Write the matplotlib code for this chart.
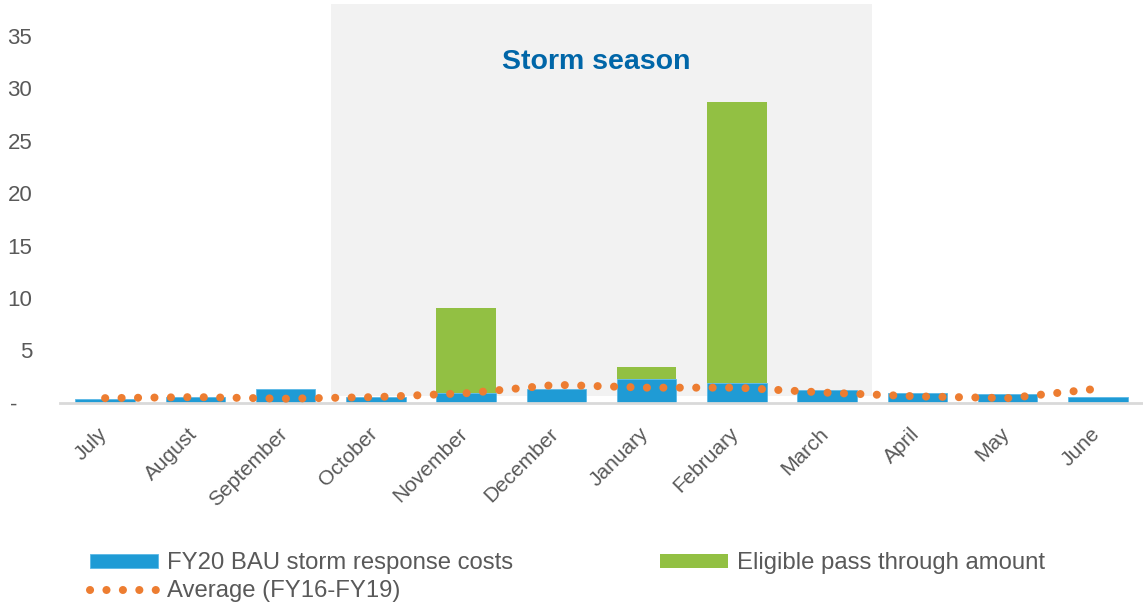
import matplotlib.pyplot as plt
from matplotlib.patches import Rectangle
from matplotlib.transforms import ScaledTranslation
import numpy as np

plt.rcParams['font.family'] = ['Liberation Sans', 'DejaVu Sans']

months = ['July', 'August', 'September', 'October', 'November', 'December',
          'January', 'February', 'March', 'April', 'May', 'June']
bau_costs = [0.4, 0.6, 1.35, 0.6, 0.95, 1.3, 2.3, 1.9, 1.25, 0.95, 0.85, 0.6]
pass_through = [0, 0, 0, 0, 8.1, 0, 1.13, 26.8, 0, 0, 0, 0]
average = [0.45, 0.55, 0.4, 0.55, 0.92, 1.72, 1.45, 1.45, 0.97, 0.62, 0.45, 1.35]
yticks = [0, 5, 10, 15, 20, 25, 30, 35]
ytick_labels = ['-', '5', '10', '15', '20', '25', '30', '35']

blue = '#1F9BD5'
green = '#92C043'
orange = '#ED7D31'
grey_txt = '#595959'

fig = plt.figure(figsize=(11.43, 6.04), dpi=100)
ax = fig.add_axes([0.0525, 0.333, 0.9475, 0.66])

x = np.arange(len(months))
ax.set_xlim(-0.5, len(months) - 0.5)
ax.set_ylim(0, 38)

# storm season shading (October - March)
ax.add_patch(Rectangle((2.5, 0.65), 6, 40, facecolor='#F2F2F2', edgecolor='none', zorder=0))
ax.text(5.44, 32.5, 'Storm season', ha='center', va='center', fontsize=20.5,
        fontweight='bold', color='#0066A8', zorder=5)

b1 = ax.bar(x, bau_costs, width=0.66, color=blue, edgecolor='#5BB8E6', linewidth=0.6,
            label='FY20 BAU storm response costs', zorder=2)
b2 = ax.bar(x, pass_through, width=0.66, bottom=bau_costs, color=green,
            label='Eligible pass through amount', zorder=2)
ln, = ax.plot(x, average, color=orange, linewidth=5.8, linestyle=(0, (0.01, 2.03)),
              dash_capstyle='round', label='Average (FY16-FY19)', zorder=3)

for s in ['top', 'right', 'left']:
    ax.spines[s].set_visible(False)
ax.spines['bottom'].set_color('#D9D9D9')
ax.spines['bottom'].set_linewidth(2)

ax.set_yticks(yticks)
ax.set_yticklabels(ytick_labels)
ax.tick_params(axis='y', length=0, pad=20, labelsize=16, labelcolor=grey_txt)
# accounting style dash sits left of the numbers
dash = ax.get_yticklabels()[0]
dash.set_transform(dash.get_transform() + ScaledTranslation(-15 / 100, 0, fig.dpi_scale_trans))

ax.set_xticks(x)
ax.set_xticklabels(months, rotation=45, ha='right', rotation_mode='anchor')
ax.tick_params(axis='x', length=0, pad=8, labelsize=15, labelcolor=grey_txt)
shift = ScaledTranslation(-8 / 100, -10 / 100, fig.dpi_scale_trans)
for lab in ax.get_xticklabels():
    lab.set_transform(lab.get_transform() + shift)

leg = fig.legend([b1, ln, b2],
                 ['FY20 BAU storm response costs', 'Average (FY16-FY19)', 'Eligible pass through amount'],
                 ncol=2, loc='lower left', bbox_to_anchor=(0.0787, 0.003), frameon=False,
                 borderpad=0, borderaxespad=0,
                 fontsize=17.2, handlelength=2.85, handleheight=0.5, handletextpad=0.37,
                 columnspacing=6.15, labelspacing=0.25, labelcolor=grey_txt)

fig.savefig('out.png', dpi=100)
